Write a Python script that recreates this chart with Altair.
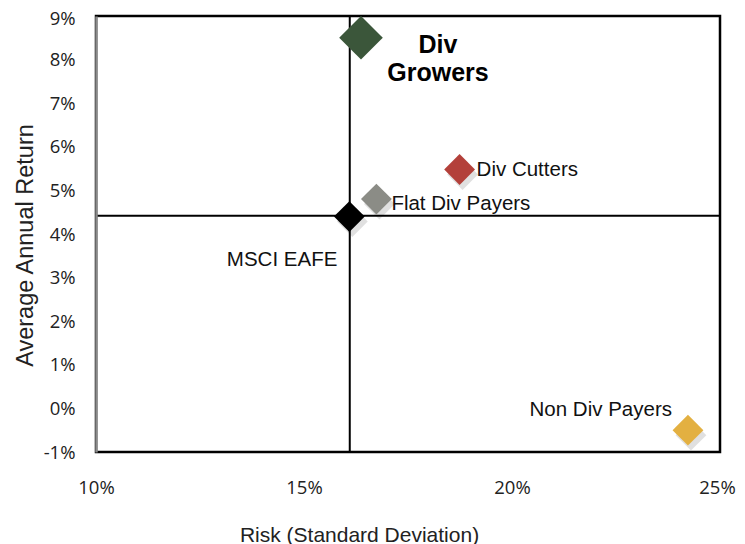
import altair as alt
import pandas as pd

# ---- data ----
names = ["Div Growers", "Div Cutters", "Flat Div Payers", "MSCI EAFE", "Non Div Payers"]
risk = [16.37, 18.74, 16.74, 16.09, 24.23]        # Risk (Standard Deviation), %
ret = [8.50, 5.48, 4.80, 4.40, -0.50]             # Average Annual Return, %
colors = ["#3b563a", "#b3403a", "#8b8c86", "#000000", "#e3b041"]
x_ticks = [10, 15, 20, 25]
y_ticks = [-1, 0, 1, 2, 3, 4, 5, 6, 7, 8, 9]
bench_risk = [16.10]
bench_ret = [4.42]

df = pd.DataFrame({"name": names, "risk": risk, "ret": ret})

FONT = "Liberation Sans"
TICKFONT = "Open Sans"

xs = alt.Scale(domain=[10, 25], nice=False, zero=False)
ys = alt.Scale(domain=[-1, 9], nice=False, zero=False)

X = alt.X("risk:Q", scale=xs,
          axis=alt.Axis(values=x_ticks, labelExpr="datum.value + '%'", title="Risk (Standard Deviation)",
                        grid=False, ticks=False, domain=False, labelPadding=26, labelFlush=False,
                        labelOverlap=False, labelOffset={"expr": "datum.value == 25 ? -3 : 0"},
                        titleX=263, titleY=89, titleBaseline="alphabetic", titleAnchor="start",
                        titleAlign="center",
                        labelFont=TICKFONT, labelFontSize=18.5, labelColor="#222222",
                        titleFont=FONT, titleFontSize=21, titleFontWeight="normal", titleColor="#222222"))
Y = alt.Y("ret:Q", scale=ys,
          axis=alt.Axis(values=y_ticks, labelExpr="datum.value + '%'", title="Average Annual Return",
                        grid=False, ticks=False, domain=True, domainColor="#8a8a8a", domainWidth=2.5,
                        labelPadding=21, titlePadding=6, zindex=1, labelFlush=False, labelOverlap=False,
                        labelOffset={"expr": "datum.value == 9 ? 2 : 0"},
                        titleY=229, titleAlign="center",
                        labelFont=TICKFONT, labelFontSize=18.5, labelColor="#222222",
                        titleFont=FONT, titleFontSize=23.5, titleFontWeight="normal", titleColor="#222222"))

color = alt.Color("name:N", scale=alt.Scale(domain=names, range=colors), legend=None)

base = alt.Chart(df)

vline = alt.Chart(pd.DataFrame({"v": bench_risk})).mark_rule(color="black", strokeWidth=2).encode(
    x=alt.X("v:Q", scale=xs))
hline = alt.Chart(pd.DataFrame({"v": bench_ret})).mark_rule(color="black", strokeWidth=2).encode(
    y=alt.Y("v:Q", scale=ys))

small = base.transform_filter(alt.datum.name != "Div Growers")
big = base.transform_filter(alt.datum.name == "Div Growers")

shadow_small = small.mark_point(shape="diamond", filled=True, size=950, color="#000000", opacity=0.12).encode(
    x=X, y=Y, xOffset=alt.value(3), yOffset=alt.value(5))
pts_small = small.mark_point(shape="diamond", filled=True, size=950, opacity=1).encode(x=X, y=Y, color=color)
pts_big = big.mark_point(shape="diamond", filled=True, size=1900, opacity=1).encode(x=X, y=Y, color=color)


def label(name, **kw):
    return base.transform_filter(alt.datum.name == name).mark_text(
        font=FONT, fontSize=20.5, color="#111111", baseline="middle", **kw
    ).encode(x=X, y=Y, text="name:N")


lab_growers = base.transform_filter(alt.datum.name == "Div Growers").mark_text(
    font=FONT, fontSize=25, fontWeight="bold", color="#000000", align="center", baseline="middle",
    lineBreak=" ", lineHeight=28, dx=77, dy=7
).encode(x=X, y=Y, text="name:N")
lab_cutters = label("Div Cutters", align="left", dx=17, dy=1)
lab_flat = label("Flat Div Payers", align="left", dx=15, dy=5)
lab_msci = label("MSCI EAFE", align="right", dx=-12, dy=43)
lab_non = label("Non Div Payers", align="right", dx=-16, dy=-20)

chart = alt.layer(
    vline, hline, shadow_small, pts_small, pts_big,
    lab_growers, lab_cutters, lab_flat, lab_msci, lab_non
).properties(
    width=624, height=436,
    autosize=alt.AutoSizeParams(type="none"),
    padding={"left": 88, "top": 8, "right": 17, "bottom": 92},
    background="white",
).configure_view(stroke="black", strokeWidth=2.5)

chart.save("out.html", embed_options={"renderer": "svg", "actions": False})
